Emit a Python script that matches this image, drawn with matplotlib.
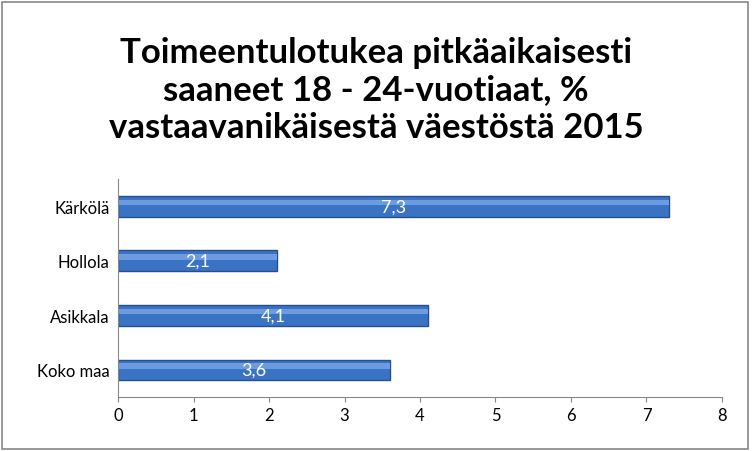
import matplotlib
matplotlib.use("Agg")
import matplotlib.pyplot as plt
from matplotlib.patches import Rectangle

categories = ["Kärkölä", "Hollola", "Asikkala", "Koko maa"]
values = [7.3, 2.1, 4.1, 3.6]
labels = ["7,3", "2,1", "4,1", "3,6"]
xticks = [0, 1, 2, 3, 4, 5, 6, 7, 8]

plt.rcParams['font.family'] = ['Lato', 'DejaVu Sans']
fig = plt.figure(figsize=(7.52, 4.52), dpi=100)
fig.patches.append(Rectangle((0.003, 0.004), 0.992, 0.99, transform=fig.transFigure,
                             fill=False, edgecolor='#888888', linewidth=1.2))
ax = fig.add_axes([0.157, 0.119, 0.803, 0.483])
pos = list(range(len(categories)))[::-1]
ax.barh(pos, values, height=0.38, color='#3a72c4', edgecolor='#24508f', linewidth=1)
ax.barh([p + 0.07 for p in pos], values, height=0.10, color='#6d9be0', linewidth=0)
for p, v, l in zip(pos, values, labels):
    ax.text(v / 2, p, l, ha='center', va='center', color='white', fontsize=13)
ax.set_yticks(pos)
ax.set_yticklabels(categories, fontsize=12)
ax.set_xticks(xticks)
ax.set_xticklabels([str(t) for t in xticks], fontsize=12)
ax.set_xlim(0, 8)
ax.set_ylim(-0.5, 3.5)
for s in ['top', 'right']:
    ax.spines[s].set_visible(False)
ax.spines['left'].set_color('#888888')
ax.spines['bottom'].set_color('#888888')
ax.tick_params(axis='y', length=0, pad=6)
ax.tick_params(axis='x', color='#888888')
fig.text(0.5, 0.80, "Toimeentulotukea pitkäaikaisesti\nsaaneet 18 - 24-vuotiaat, %\nvastaavanikäisestä väestöstä 2015",
         ha='center', va='center', fontsize=25, fontweight='bold', linespacing=1.2)
fig.savefig("out.png", dpi=100)
